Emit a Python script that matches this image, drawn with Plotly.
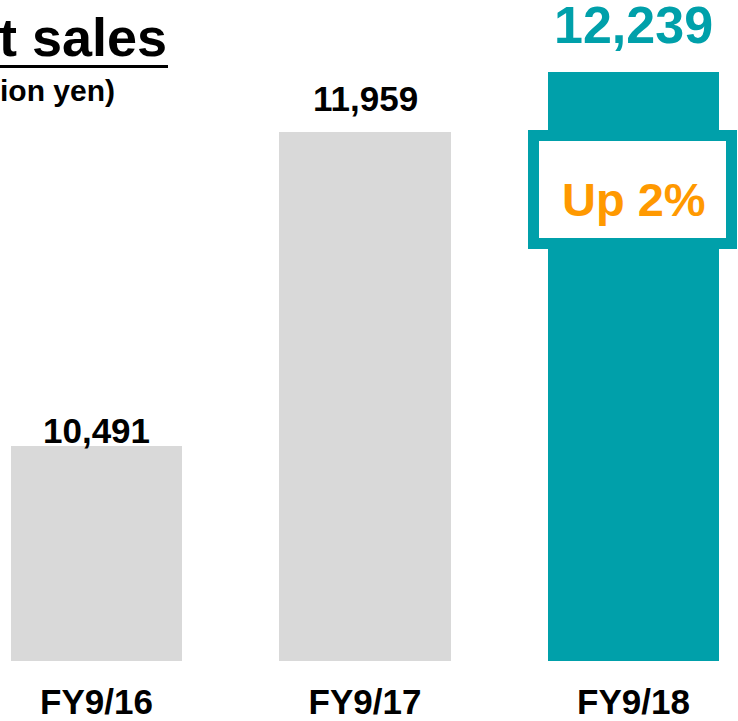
import plotly.graph_objects as go

# ---- data ----
categories = ["FY9/16", "FY9/17", "FY9/18"]
net_sales = [10491, 11959, 12239]
value_labels = ["10,491", "11,959", "12,239"]
title_text = "Net sales"
unit_text = "(Million yen)"
growth_text = "Up 2%"

# ---- styles ----
GREY = "#D9D9D9"
TEAL = "#00A0AA"
ORANGE = "#FF9900"
FONT = "Arial, Liberation Sans, sans-serif"
bar_colors = [GREY, GREY, TEAL]
label_colors = ["#000000", "#000000", TEAL]
label_sizes = [35, 35, 52]
label_shift = [16, 33, 47]

W, H = 738, 721
PLOT_BOTTOM = 661  # pixel y of axis baseline
X_MIN, X_MAX = -0.3594, 2.3892
Y_MIN, Y_MAX = 9490, 12574

fig = go.Figure()
fig.add_trace(go.Bar(
    x=list(range(len(categories))), y=net_sales,
    marker=dict(color=bar_colors, line=dict(width=0)),
    width=0.637,
    hoverinfo="skip",
))

annotations = []
for i, (v, lab) in enumerate(zip(net_sales, value_labels)):
    annotations.append(dict(
        x=i, y=v, xref="x", yref="y", text="<b>%s</b>" % lab,
        showarrow=False, xanchor="center", yanchor="middle",
        yshift=label_shift[i],
        font=dict(family=FONT, size=label_sizes[i], color=label_colors[i]),
    ))


def px_to_paper_x(px):
    return px / W


def px_to_paper_y(py):
    return (PLOT_BOTTOM - py) / PLOT_BOTTOM


# title and unit (cut off at left edge like the reference)
annotations.append(dict(
    x=px_to_paper_x(169), y=px_to_paper_y(37), xref="paper", yref="paper",
    text="<b>%s</b>" % title_text, showarrow=False,
    xanchor="right", yanchor="middle",
    font=dict(family=FONT, size=54, color="#000000"),
))
annotations.append(dict(
    x=px_to_paper_x(117), y=px_to_paper_y(90), xref="paper", yref="paper",
    text="<b>%s</b>" % unit_text, showarrow=False,
    xanchor="right", yanchor="middle",
    font=dict(family=FONT, size=30, color="#000000"),
))
# growth callout text
annotations.append(dict(
    x=2, y=px_to_paper_y(199), xref="x", yref="paper",
    text="<b>%s</b>" % growth_text, showarrow=False,
    xanchor="center", yanchor="middle",
    font=dict(family=FONT, size=47, color=ORANGE),
))

shapes = [
    # title underline
    dict(type="line", xref="paper", yref="paper",
         x0=px_to_paper_x(-5), x1=px_to_paper_x(168),
         y0=px_to_paper_y(66.5), y1=px_to_paper_y(66.5),
         line=dict(color="#000000", width=3)),
    # callout box
    dict(type="rect", xref="paper", yref="paper",
         x0=px_to_paper_x(533.5), x1=px_to_paper_x(731.5),
         y0=px_to_paper_y(243.5), y1=px_to_paper_y(135.5),
         line=dict(color=TEAL, width=11), fillcolor="#FFFFFF", layer="above"),
]

fig.update_layout(
    width=W, height=H,
    margin=dict(l=0, r=0, t=0, b=H - PLOT_BOTTOM, pad=0, autoexpand=False),
    paper_bgcolor="#FFFFFF", plot_bgcolor="#FFFFFF",
    showlegend=False,
    annotations=annotations,
    shapes=shapes,
    bargap=0,
)
fig.update_xaxes(
    range=[X_MIN, X_MAX], tickmode="array",
    tickvals=list(range(len(categories))),
    ticktext=["<b>%s</b>" % c for c in categories],
    tickfont=dict(family=FONT, size=35, color="#000000"),
    ticks="outside", ticklen=10, tickcolor="rgba(0,0,0,0)",
    showgrid=False, zeroline=False, showline=False, automargin=False,
)
fig.update_yaxes(
    range=[Y_MIN, Y_MAX], visible=False, showgrid=False, zeroline=False,
    automargin=False,
)

fig.write_html(
    "out.html",
    config={"displayModeBar": False},
    post_script="document.body.style.margin='0';document.body.style.overflow='hidden';",
)
